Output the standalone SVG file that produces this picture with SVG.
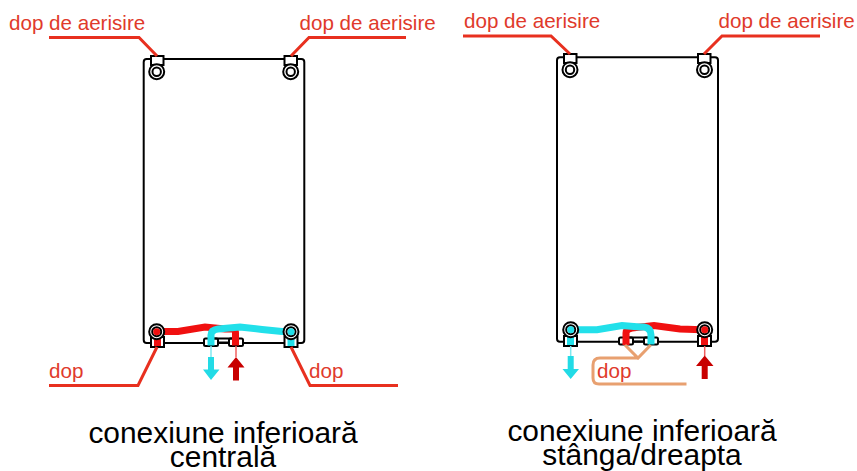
<svg xmlns="http://www.w3.org/2000/svg" width="857" height="471" viewBox="0 0 857 471">
<style>
.k{fill:none;stroke:#000;stroke-width:2}
.w{fill:#fff;stroke:#000;stroke-width:2}
.ld{fill:none;stroke:#e8301f;stroke-width:3}
.t{font-family:"Liberation Sans",Arial,sans-serif;font-size:20.6px;fill:#e03a2b}
.c{font-family:"Liberation Sans",Arial,sans-serif;font-size:29.9px;fill:#000;text-anchor:middle}
.r{fill:none;stroke:#f01010;stroke-width:7}
.b{fill:none;stroke:#22e0ea;stroke-width:7}
.lb{stroke:#7fe8f0;stroke-width:1.500}
.lr{stroke:#f06060;stroke-width:1.500}
.ab{fill:#22dbe6}
.ar{fill:#c80000}
.fr{fill:#f01010}
.fb{fill:#22e0ea}
</style>
<rect width="857" height="471" fill="#fff"/>
<g id="radiator-left">
<rect class="k" x="143.700" y="59" width="160.600" height="284" rx="3"/>
<rect x="151" y="56" width="12.500" height="9" class="w"/>
<rect x="284.500" y="56" width="12.500" height="9" class="w"/>
<circle class="w" cx="156.700" cy="71.700" r="7.500"/><circle class="w" cx="156.700" cy="71.700" r="4.200"/>
<circle class="w" cx="290.700" cy="71.700" r="7.500"/><circle class="w" cx="290.700" cy="71.700" r="4.200"/>
<rect class="w" x="204" y="338.500" width="14" height="7.500" rx="1.500"/><rect class="w" x="229" y="338.500" width="14" height="7.500" rx="1.500"/>
<path class="k" d="M218 342.500H229M214 338.500H233"/>
<rect class="w" x="151" y="337" width="13" height="10"/><rect x="154" y="337" width="7" height="9" class="fr"/>
<rect class="w" x="284.500" y="337" width="13" height="10"/><rect x="287.500" y="337" width="7" height="9" class="fb"/>
</g>
<g id="radiator-right">
<rect class="k" x="557" y="57.300" width="161" height="284.400" rx="3"/>
<rect class="w" x="564" y="54" width="12.500" height="9"/>
<rect class="w" x="698" y="54" width="12.500" height="9"/>
<circle class="w" cx="570" cy="69.700" r="7.500"/><circle class="w" cx="570" cy="69.700" r="4.200"/>
<circle class="w" cx="704.500" cy="69.700" r="7.500"/><circle class="w" cx="704.500" cy="69.700" r="4.200"/>
<rect class="w" x="619" y="337.500" width="14" height="7" rx="1.500"/><rect class="w" x="644" y="337.500" width="14" height="7" rx="1.500"/>
<path class="k" d="M633 341.500H644M629 337.500H648"/>
<rect class="w" x="564" y="336" width="13" height="10"/><rect x="567" y="336" width="7" height="9" class="fb"/>
<rect class="w" x="698" y="336" width="13" height="10"/><rect x="701" y="336" width="7" height="9" class="fr"/>
</g>
<g id="connectors">
<path class="r" d="M161 331.500H178L205 327L225 329H232Q235.500 329 235.500 333V345.500"/>
<path class="b" d="M211 345.500V335Q211 330 218 329L240 327L262 329.500L282 331.500H288"/>
<path class="lb" d="M211 346V357"/>
<path class="lr" d="M236 346V357"/>
<path class="ab" d="M208 357H214V369.500H219.500L211 380L203 369.500H208Z"/>
<path class="ar" d="M233 380.500H239V367.500H244.500L236 357L227.500 367.500H233Z"/>
<path class="r" d="M626 345V333Q626 329 632 328L654 325.500L680 329L702 329.700"/>
<path class="b" d="M574 329.700H597L622 325.500L640 327H644Q651 328 651 335V344.500"/>
<path class="lb" d="M570.700 346V356"/>
<path class="lr" d="M704.700 346V356"/>
<path class="ab" d="M567.700 356H573.700V369H579L570.700 379L562.500 369H567.700Z"/>
<path class="ar" d="M701.700 379H707.700V366H713.500L704.700 355.500L696 366H701.700Z"/>
<path class="ld" d="M49 37.500H139L157 56"/>
<path class="ld" d="M406 37.500H309L291 56"/>
<path class="ld" d="M463 36H551L570 54"/>
<path class="ld" d="M820 36H722L704 54"/>
<path class="ld" d="M49 385.500H138L157 347"/>
<path class="ld" d="M398 385.500H310L291 347"/>
<path d="M625 345L638 358L650.700 345M638 358H600Q593 358 593 365V378Q593 384 599 384H686.500" fill="none" stroke="#e8a070" stroke-width="3"/>
</g>
<g id="valves">
<circle class="w" cx="156.700" cy="331.700" r="7.500"/><circle class="w" cx="156.700" cy="331.700" r="4.500"/><circle cx="156.700" cy="331.700" r="3.500" class="fr"/>
<circle class="w" cx="291" cy="331.700" r="7.500"/><circle class="w" cx="291" cy="331.700" r="4.500"/><circle cx="291" cy="331.700" r="3.500" class="fb"/>
<circle class="w" cx="570.700" cy="329.700" r="7.500"/><circle class="w" cx="570.700" cy="329.700" r="4.500"/><circle cx="570.700" cy="329.700" r="3.500" class="fb"/>
<circle class="w" cx="704.700" cy="329.700" r="7.500"/><circle class="w" cx="704.700" cy="329.700" r="4.500"/><circle cx="704.700" cy="329.700" r="3.500" class="fr"/>
</g>
<g id="labels">
<text class="t" x="9" y="29.500">dop de aerisire</text>
<text class="t" x="299.500" y="29.500">dop de aerisire</text>
<text class="t" x="464" y="27.500">dop de aerisire</text>
<text class="t" x="718.500" y="27.500">dop de aerisire</text>
<text class="t" x="49" y="378">dop</text>
<text class="t" x="309" y="378">dop</text>
<text class="t" x="597" y="378">dop</text>
<text class="c" x="223" y="442.500">conexiune inferioară</text>
<text class="c" x="223" y="467">centrală</text>
<text class="c" x="642" y="440.500">conexiune inferioară</text>
<text class="c" x="642" y="465">stânga/dreapta</text>
</g>
</svg>
